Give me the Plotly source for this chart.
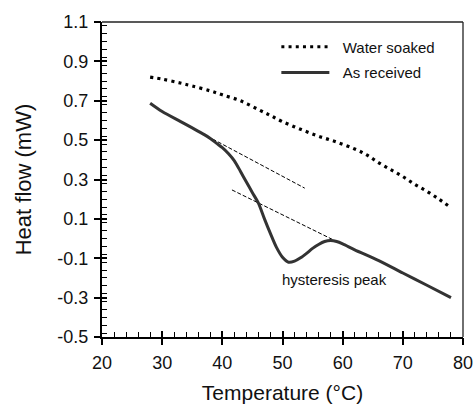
import plotly.graph_objects as go

# ---- data ----
water_T = [28, 30, 33, 35, 38, 40, 43, 46, 48, 50, 53, 56, 59, 62, 64, 66, 68, 70, 72, 74, 76, 77.5]
water_hf = [0.82, 0.81, 0.79, 0.775, 0.75, 0.73, 0.70, 0.655, 0.625, 0.594, 0.555, 0.52, 0.49,
            0.455, 0.425, 0.385, 0.35, 0.315, 0.275, 0.24, 0.20, 0.168]

asrec_T = [28, 30, 33, 35, 37, 38, 39, 40, 41, 42, 43, 44, 45, 46, 47, 48, 49, 50, 51, 52, 53,
           54, 55, 56, 57, 58, 59, 60, 62, 66, 70, 74, 78]
asrec_hf = [0.687, 0.645, 0.595, 0.562, 0.528, 0.508, 0.485, 0.462, 0.432, 0.395, 0.342, 0.287,
            0.233, 0.18, 0.10, 0.025, -0.045, -0.095, -0.12, -0.115, -0.098, -0.075, -0.05,
            -0.03, -0.015, -0.01, -0.015, -0.027, -0.057, -0.112, -0.175, -0.237, -0.30]

tan1_T = [37.5, 53.7]
tan1_hf = [0.52, 0.256]
tan2_T = [41.6, 60.0]
tan2_hf = [0.247, -0.03]

x_range = [20, 80]
y_range = [-0.5, 1.1]
x_ticks = [20, 30, 40, 50, 60, 70, 80]
x_ticktext = ["20", "30", "40", "50", "60", "70", "80"]
y_ticks = [-0.5, -0.3, -0.1, 0.1, 0.3, 0.5, 0.7, 0.9, 1.1]
y_ticktext = ["-0.5", "-0.3", "-0.1", "0.1", "0.3", "0.5", "0.7", "0.9", "1.1"]

FONT = "Liberation Sans, Arial, Helvetica, sans-serif"
NB = "\u00a0\u00a0"

fig = go.Figure()

fig.add_trace(go.Scatter(
    x=water_T, y=water_hf, mode="lines", name=NB + "Water soaked",
    line=dict(color="black", width=3.2, dash="3px,4.2px", shape="spline"),
    legend="legend", xaxis="x2", yaxis="y2"))
fig.add_trace(go.Scatter(
    x=asrec_T, y=asrec_hf, mode="lines", name=NB + "As received",
    line=dict(color="#333333", width=3, shape="spline", smoothing=0.8),
    legend="legend2", xaxis="x2", yaxis="y2"))
fig.add_trace(go.Scatter(
    x=tan1_T, y=tan1_hf, mode="lines", showlegend=False,
    line=dict(color="black", width=1, dash="4px,2px")))
fig.add_trace(go.Scatter(
    x=tan2_T, y=tan2_hf, mode="lines", showlegend=False,
    line=dict(color="black", width=1, dash="4px,2px")))

fig.add_annotation(x=58.7, y=-0.21, text="hysteresis peak", showarrow=False,
                   font=dict(family=FONT, size=15, color="#111111"))

# top and right frame lines (thinner)
fig.add_shape(type="line", xref="paper", yref="paper", x0=0, x1=1, y0=1, y1=1,
              line=dict(color="#222222", width=1.3))
fig.add_shape(type="line", xref="paper", yref="paper", x0=1, x1=1, y0=0, y1=1,
              line=dict(color="#222222", width=1.3))

fig.update_layout(
    width=476, height=406,
    margin=dict(l=102, r=13, t=22, b=69, autoexpand=False),
    paper_bgcolor="white", plot_bgcolor="white",
    font=dict(family=FONT, color="#111111"),
    # main axes: inside major + minor ticks and the axis lines
    xaxis=dict(
        range=x_range, tickmode="linear", tick0=20, dtick=10, ticks="inside", ticklen=6,
        tickwidth=1.5, tickcolor="black", showticklabels=False, automargin=False,
        showline=True, linewidth=2, linecolor="black", showgrid=False, zeroline=False,
        minor=dict(tickmode="linear", dtick=2, ticks="inside", ticklen=5, tickwidth=1.2,
                   tickcolor="black", showgrid=False),
    ),
    yaxis=dict(
        range=y_range, tickmode="linear", tick0=-0.5, dtick=0.2, ticks="inside", ticklen=5,
        tickwidth=1.5, tickcolor="black", showticklabels=False, automargin=False,
        showline=True, linewidth=2, linecolor="black", showgrid=False, zeroline=False,
        minor=dict(tickmode="linear", dtick=0.04, ticks="inside", ticklen=5, tickwidth=1.2,
                   tickcolor="black", showgrid=False),
    ),
    # overlay axes: outward major ticks, labels and titles
    xaxis2=dict(range=x_range, overlaying="x", anchor="y2", side="bottom",
                tickvals=x_ticks, ticktext=x_ticktext, ticks="outside", ticklen=7,
                tickwidth=1.5, tickcolor="black", tickfont=dict(size=18),
                ticklabelstandoff=2, showline=False, showgrid=False, zeroline=False,
                automargin=False,
                title=dict(text="Temperature (°C)", font=dict(size=21), standoff=13)),
    yaxis2=dict(range=y_range, overlaying="y", anchor="x2", side="left",
                tickvals=y_ticks, ticktext=y_ticktext, ticks="outside", ticklen=7,
                tickwidth=1.5, tickcolor="black", tickfont=dict(size=18),
                ticklabelstandoff=2, showline=False, showgrid=False, zeroline=False,
                automargin=False,
                title=dict(text="Heat flow (mW)", font=dict(size=22), standoff=19)),
    legend=dict(x=0.483, y=0.973, xanchor="left", yanchor="top", bgcolor="rgba(0,0,0,0)",
                font=dict(size=15), itemwidth=48),
    legend2=dict(x=0.483, y=0.891, xanchor="left", yanchor="top", bgcolor="rgba(0,0,0,0)",
                 font=dict(size=15), itemwidth=48),
)

fig.write_html("out.html", config={"displayModeBar": False},
               post_script="document.body.style.margin='0px';")
